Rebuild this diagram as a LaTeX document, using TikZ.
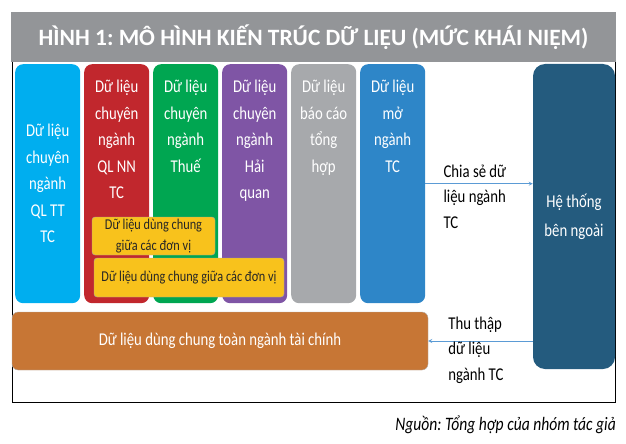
\documentclass[tikz,border=0pt]{standalone}
\usepackage{fontspec}
\setmainfont[FakeStretch=0.82]{Carlito}
\newfontfamily\headfont{Carlito}
\frenchspacing
\usepackage{xcolor}
\usepackage{tikz}
\usetikzlibrary{arrows,
                positioning,
                shapes}
\definecolor{titlegray}{HTML}{939598}
\definecolor{qlttblue}{HTML}{00AEEF}
\definecolor{qlnnred}{HTML}{C1272D}
\definecolor{thuegreen}{HTML}{00A651}
\definecolor{hqpurple}{HTML}{7F55A5}
\definecolor{bcgray}{HTML}{A7A9AC}
\definecolor{moblue}{HTML}{2E86C8}
\definecolor{extblue}{HTML}{245B7E}
\definecolor{shareorange}{HTML}{C77635}
\definecolor{shareyellow}{HTML}{F8C21C}
\definecolor{flowblue}{HTML}{5B9BD5}
\newcommand{\unitcolumns}[1]{%
    \foreach \id/\colour [count=\n starting from 0] in {#1}{% one column per unit, 69pt apart
      \node[column, fill=\colour] (\id) at (15+\n*69,64) {};
    }
}
\tikzstyle{column} = [anchor=north west, rounded corners=8pt, minimum width=65pt, minimum height=239pt, inner sep=0pt]
\tikzstyle{coltext} = [align=center, inner sep=0pt, text=white, font=\fontsize{18}{26.5}\selectfont]
\tikzstyle{shared} = [draw=gray!70, fill=shareyellow, rounded corners=3pt, inner sep=0pt, align=center, text=black!85, font=\fontsize{15}{21}\selectfont]
\tikzstyle{flowlabel} = [anchor=west, align=left, inner sep=0pt, font=\fontsize{18}{25.5}\selectfont]
\tikzstyle{flow} = [->,>=stealth,flowblue,line width=0.8pt]

\begin{document}
\begin{tikzpicture}[x=1pt,y=-1pt]
    \useasboundingbox (0,0) rectangle (626,444);
    \draw[line width=1pt] (12,62) rectangle (615,402);
    \node[fill=titlegray, minimum width=605pt, minimum height=50pt, text=white,
          font=\headfont\bfseries\fontsize{23.4}{27}\selectfont] (title) at (313.5,37)
          {HÌNH 1: MÔ HÌNH KIẾN TRÚC DỮ LIỆU (MỨC KHÁI NIỆM)};

    \unitcolumns{qltt/qlttblue,qlnn/qlnnred,thue/thuegreen,hq/hqpurple,bc/bcgray,mo/moblue}

    \node[coltext] (qlttlabel) at (qltt.center) {Dữ liệu\\chuyên\\ngành\\QL TT\\TC};
    \node[coltext, below=16pt of qlnn.north] (qlnnlabel) {Dữ liệu\\chuyên\\ngành\\QL NN\\TC};
    \node[coltext, below=16pt of thue.north] (thuelabel) {Dữ liệu\\chuyên\\ngành\\Thuế};
    \node[coltext, below=16pt of hq.north] (hqlabel) {Dữ liệu\\chuyên\\ngành\\Hải\\quan};
    \node[coltext, below=16pt of bc.north] (bclabel) {Dữ liệu\\báo cáo\\tổng\\hợp};
    \node[coltext, below=16pt of mo.north] (molabel) {Dữ liệu\\mở\\ngành\\TC};

    \node[shared, minimum width=123pt, minimum height=38pt] (unitshare) at (153.5,236)
          {Dữ liệu dùng chung\\giữa các đơn vị};
    \node[shared, minimum width=190pt, minimum height=39pt] (allshare) at (189,277.5)
          {Dữ liệu dùng chung giữa các đơn vị};

    \node[draw=gray!60, fill=shareorange, rounded corners=6pt, minimum width=416pt, minimum height=58pt,
          text=white, font=\fontsize{18}{22}\selectfont] (sector) at (220,341)
          {Dữ liệu dùng chung toàn ngành tài chính};
    \node[fill=extblue, rounded corners=12pt, minimum width=82pt, minimum height=305pt, align=center,
          text=white, font=\fontsize{18}{29}\selectfont] (external) at (574,216.5)
          {Hệ thống\\bên ngoài};

    \draw[flow] (mo.east) -- (mo.east -| external.west);
    \draw[flow] (sector.east -| external.west) -- (sector.east);
    \node[flowlabel] (sharelabel) at ([xshift=18pt,yshift=-13pt]mo.east) {Chia sẻ dữ\\liệu ngành\\TC};
    \node[flowlabel] (collectlabel) at ([xshift=20pt,yshift=-9pt]sector.east) {Thu thập\\dữ liệu\\ngành TC};

    \node[anchor=east, inner sep=0pt, font=\itshape\fontsize{19}{22}\selectfont] (source) at (616,425)
          {Nguồn: Tổng hợp của nhóm tác giả};
\end{tikzpicture}
\end{document}
